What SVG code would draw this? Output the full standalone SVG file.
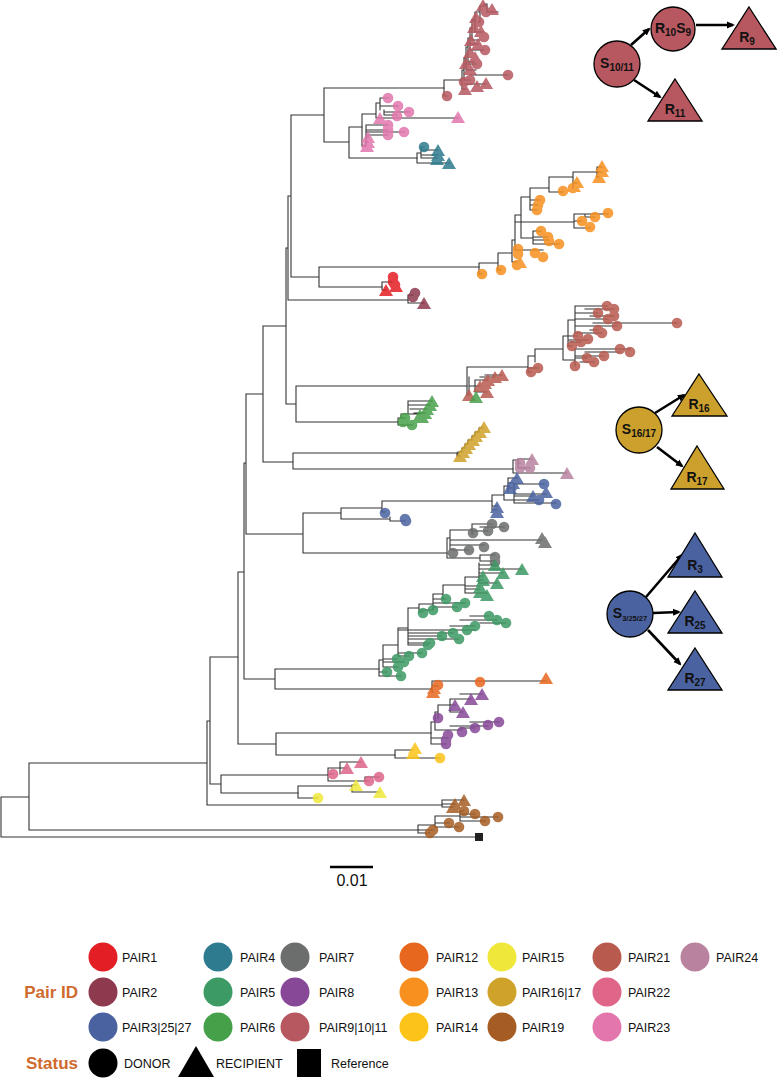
<svg xmlns="http://www.w3.org/2000/svg" xmlns:xlink="http://www.w3.org/1999/xlink" width="777" height="1078" viewBox="0 0 777 1078">
<style>
.br{stroke:#333;stroke-width:1.1;fill:none;stroke-linecap:square}
.mk{opacity:0.85}
.nd{stroke:#000;stroke-width:1.3}
.lb{font-family:"Liberation Sans",Arial,sans-serif;font-weight:bold;font-size:14px;fill:#111}
.sb{font-size:10px}
.lg{font-family:"Liberation Sans",Arial,sans-serif;font-size:12.5px;fill:#111}
.hd{font-family:"Liberation Sans",Arial,sans-serif;font-weight:bold;font-size:17px;fill:#cf6a2e}
.ar{stroke:#000;stroke-width:2.6;fill:none}
</style>
<defs>
<path id="t" d="M0,-7L7,5L-7,5Z"/>
<circle id="c" r="5.3"/>
<marker id="ah" markerWidth="8" markerHeight="8" refX="6" refY="4" orient="auto" markerUnits="userSpaceOnUse"><path d="M0,0.5L8,4L0,7.5Z" fill="#000"/></marker>
</defs>
<rect width="777" height="1078" fill="#fff"/>

<g id="backbone" class="br">
<path d="M1,797V837H479M1,797H29M29,763V830H418M29,763H207M207,721V805H442M207,721H210M210,657V784H221M210,657H238M221,775V793M221,775H328M221,793H298M238,572V744M238,572H244M238,744H276M276,733V755M276,733H431M276,755H395M244,463V679M244,463H246M244,679H275M275,669V689M275,669H379M275,689H432M246,394V534M246,394H263M246,534H303M303,513V553M303,513H341M303,553H447M341,508V519M341,508H382M341,519H390M382,501V512M382,501H492M382,512H385M390,517V521H405M263,326V462M263,326H286M263,462H293M293,453V469M293,453H457M293,469H513M286,248V404M286,248H288M286,404H296M296,386V422M296,386H467M296,422H398M288,196V300M288,196H291M288,300H408M291,115V277M291,115H324M291,277H319M319,267V287M319,267H479M319,287H382M324,88V142M324,88H444M324,142H349M349,127V158M349,127H362M349,158H417"/>
</g>

<g id="clade-pair9-10-11" >
<path class="br" d="M444,80V96H447M444,80H462M462,70V89H466M462,70H464M464,58V80H470M464,84H486M464,58H466M466,47V70H476M466,47H468M468,38V62H474M468,38H470M470,28V50H484M470,28H472M472,20V40H480M472,20H475M475,12V32H483M475,12H480M480,6V22H478M480,6H487M487,4V12H498M487,4H484M470,75H508M466,64H476M470,44H478"/>
<g fill="#b75860" class="mk">
<use href="#t" x="483" y="6"/><use href="#t" x="492" y="10"/><use href="#t" x="476" y="18"/><use href="#t" x="474" y="28"/><use href="#t" x="481" y="32"/><use href="#t" x="471" y="41"/><use href="#t" x="478" y="45"/><use href="#t" x="470" y="53"/><use href="#t" x="475" y="58"/><use href="#t" x="466" y="64"/><use href="#t" x="470" y="70"/><use href="#t" x="465" y="90"/><use href="#t" x="477" y="87"/><use href="#t" x="486" y="84"/>
<use href="#c" x="486" y="12"/><use href="#c" x="479" y="22"/><use href="#c" x="484" y="37"/><use href="#c" x="485" y="50"/><use href="#c" x="477" y="64"/><use href="#c" x="470" y="80"/><use href="#c" x="464" y="82"/><use href="#c" x="447" y="96"/><use href="#c" x="508" y="75"/>
</g>
</g>

<g id="clade-pair23">
<path class="br" d="M362,114V146M362,114H376M376,103V118M376,103H380M380,98V110M380,98H388M380,106H398M384,110V115M384,112H409M384,115H397M376,118H458M362,146H366M366,125V146M366,125H388M366,130H388M366,132H404M366,135H388M366,137H368M366,142H368"/>
<g fill="#e276ad" class="mk">
<use href="#c" x="388" y="98"/><use href="#c" x="398" y="106"/><use href="#c" x="409" y="112"/><use href="#c" x="397" y="116"/><use href="#t" x="458" y="118"/><use href="#t" x="380" y="119"/>
<use href="#c" x="388" y="125"/><use href="#c" x="388" y="130"/><use href="#c" x="404" y="132"/><use href="#c" x="388" y="135"/>
<use href="#t" x="368" y="138"/><use href="#t" x="368" y="143"/><use href="#t" x="367" y="147"/>
</g>
</g>

<g id="clade-pair4">
<path class="br" d="M417,153V163M417,153H421M421,147V158M421,147H424M421,150H438M421,155H438M421,158H437M417,163H449"/>
<g fill="#2e7b8f" class="mk">
<use href="#c" x="424" y="147"/><use href="#t" x="438" y="151"/><use href="#t" x="438" y="156"/><use href="#t" x="437" y="160"/><use href="#t" x="449" y="164"/>
</g>
</g>

<g id="clade-pair13">
<path class="br" d="M479,263V274H482M479,263H498M498,253V270H501M498,253H512M512,240V262H517M512,240H515M515,215V250M515,250H543M515,215H521M521,197V238M521,197H530M530,188V210H537M530,205H538M530,200H540M530,188H549M549,177V192H563M549,177H573M573,172V188H573M573,183H577M573,172H597M597,167V177M597,167H602M597,172H602M597,177H599M521,238H533M533,231V244M533,231H541M533,237H548M533,240H549M533,244H559M515,222H574M574,214V228M574,214H608M574,221H582M574,228H590M585,214V217H595"/>
<g fill="#f7901e" class="mk">
<use href="#c" x="482" y="274"/><use href="#c" x="501" y="270"/><use href="#c" x="517" y="265"/><use href="#t" x="520" y="263"/><use href="#c" x="518" y="249"/><use href="#c" x="518" y="254"/><use href="#c" x="535" y="253"/><use href="#c" x="543" y="257"/>
<use href="#c" x="541" y="231"/><use href="#c" x="548" y="237"/><use href="#c" x="549" y="241"/><use href="#c" x="559" y="244"/>
<use href="#c" x="582" y="221"/><use href="#c" x="590" y="227"/><use href="#c" x="595" y="217"/><use href="#c" x="608" y="213"/>
<use href="#c" x="537" y="210"/><use href="#c" x="538" y="205"/><use href="#c" x="540" y="200"/><use href="#c" x="563" y="191"/><use href="#c" x="573" y="188"/>
<use href="#t" x="577" y="183"/><use href="#t" x="574" y="187"/><use href="#t" x="602" y="167"/><use href="#t" x="602" y="172"/><use href="#t" x="599" y="178"/>
</g>
</g>

<g id="clade-pair1">
<path class="br" d="M382,282V290M382,282H392M382,290H386"/>
<g fill="#e31e24" class="mk">
<use href="#c" x="393" y="277"/><use href="#c" x="393" y="282"/><use href="#c" x="395" y="285"/><use href="#t" x="386" y="291"/><use href="#t" x="396" y="287"/>
</g>
</g>

<g id="clade-pair2">
<path class="br" d="M408,295V303M408,295H413M408,303H424"/>
<g fill="#8e3a4e" class="mk">
<use href="#c" x="415" y="293"/><use href="#c" x="413" y="297"/><use href="#t" x="424" y="304"/>
</g>
</g>

<g id="clade-pair21">
<path class="br" d="M467,367V395H469M469,377V395M469,386H480M475,380V392M475,392H487M475,380H488M480,377H495M485,375H502M467,367H528M528,356V372M528,372H531M528,368H538M528,356H535M535,349V362M535,349H563M563,336V360M563,336H568M568,320V346M568,346H572M568,340H588M568,336H578M570,342H581M568,320H575M575,306V333M575,306H607M575,313H598M575,319H608M575,326H617M575,333H602M585,309H614M590,316H614M593,323H677M590,330H598M563,360H575M575,349V366M575,366H575M575,349H630M585,352H620M575,356H604M575,358H587M580,362H594"/>
<g fill="#b85a4e" class="mk">
<use href="#c" x="607" y="306"/><use href="#c" x="614" y="309"/><use href="#c" x="614" y="316"/><use href="#c" x="598" y="313"/><use href="#c" x="608" y="319"/><use href="#c" x="617" y="326"/><use href="#c" x="677" y="323"/><use href="#c" x="598" y="330"/><use href="#c" x="602" y="333"/><use href="#c" x="578" y="336"/><use href="#c" x="588" y="339"/><use href="#c" x="581" y="342"/><use href="#c" x="572" y="346"/>
<use href="#c" x="620" y="349"/><use href="#c" x="630" y="352"/><use href="#c" x="604" y="356"/><use href="#c" x="587" y="358"/><use href="#c" x="594" y="362"/><use href="#c" x="575" y="366"/>
<use href="#c" x="531" y="372"/><use href="#c" x="538" y="368"/>
<use href="#t" x="502" y="376"/><use href="#t" x="495" y="378"/><use href="#t" x="488" y="381"/><use href="#t" x="485" y="384"/><use href="#t" x="480" y="387"/><use href="#t" x="487" y="393"/><use href="#t" x="469" y="396"/>
</g>
<use href="#t" x="476" y="398" fill="#46a04a" class="mk"/>
</g>

<g id="clade-pair6">
<path class="br" d="M398,418V425M398,418H405M398,425H412M401,418V414H420M408,414V401H432M408,405H430M410,409H427M414,413H425"/>
<g fill="#46a04a" class="mk">
<use href="#t" x="432" y="402"/><use href="#t" x="430" y="406"/><use href="#t" x="427" y="410"/><use href="#t" x="425" y="414"/><use href="#t" x="422" y="418"/><use href="#t" x="420" y="416"/>
<use href="#c" x="405" y="418"/><use href="#c" x="403" y="422"/><use href="#c" x="412" y="425"/>
</g>
</g>

<g id="clade-pair16-17">
<path class="br" d="M457,453V456H460M458,456V452H462V448H465V444H468V440H472V436H475V432H479V428H483"/>
<g fill="#cfa22a" class="mk">
<use href="#t" x="460" y="457"/><use href="#t" x="463" y="453"/><use href="#t" x="466" y="449"/><use href="#t" x="469" y="445"/><use href="#t" x="473" y="441"/><use href="#t" x="476" y="437"/><use href="#t" x="480" y="433"/><use href="#t" x="484" y="428"/>
</g>
</g>

<g id="clade-pair24">
<path class="br" d="M513,460V473H567M513,460H518M518,459V468M518,459H532M518,463H520M518,468H530"/>
<g fill="#b9829f" class="mk">
<use href="#c" x="520" y="463"/><use href="#c" x="520" y="468"/><use href="#c" x="530" y="468"/><use href="#t" x="532" y="460"/><use href="#t" x="567" y="474"/>
</g>
</g>

<g id="clade-pair3-25-27">
<path class="br" d="M492,495V510H497M492,506H497M492,495H504M504,486V500M504,486H510M508,478V492M508,478H517M508,483H513M508,488H512M504,500H514M514,484V503M514,484H544M514,494H546M514,496H533M514,500H539M514,503H556"/>
<g fill="#4a62a0" class="mk">
<use href="#t" x="517" y="479"/><use href="#t" x="513" y="484"/><use href="#t" x="510" y="489"/><use href="#c" x="512" y="487"/><use href="#c" x="544" y="484"/>
<use href="#t" x="533" y="497"/><use href="#t" x="546" y="493"/><use href="#c" x="539" y="500"/><use href="#c" x="556" y="504"/>
<use href="#t" x="497" y="508"/><use href="#t" x="497" y="513"/>
<use href="#c" x="385" y="513"/><use href="#c" x="405" y="519"/><use href="#c" x="406" y="521"/>
</g>
</g>

<g id="clade-pair7">
<path class="br" d="M447,538V558H480M480,555V561M480,555H495M480,561H495M447,538H450M450,530V550M450,550H469M450,545H484M450,540H481M481,540H542M450,530H472M472,524V534M472,534H473M472,531H488M472,524H492M480,527H504"/>
<g fill="#6b6e6c" class="mk">
<use href="#c" x="492" y="524"/><use href="#c" x="488" y="531"/><use href="#c" x="504" y="527"/><use href="#c" x="473" y="533"/>
<use href="#t" x="542" y="539"/><use href="#t" x="545" y="543"/>
<use href="#c" x="469" y="550"/><use href="#c" x="484" y="547"/><use href="#c" x="453" y="553"/><use href="#c" x="495" y="557"/><use href="#c" x="495" y="562"/>
</g>
</g>

<g id="clade-pair5">
<path class="br" d="M379,660V676H401M379,672H387M379,660H383M383,645V667H398M383,662H404M383,659H397M383,645H398M398,628V656H409M398,653H422M398,628H408M408,608V645H428M408,643H430M408,639H459M408,636H442M408,633H453M408,608H419M419,604V612H423M419,610H433M419,604H433M433,594V609M433,607H457M433,603H465M433,599H446M433,594H443M443,585V598M443,585H465M465,577V593M465,593H487M465,589H480M465,586H480M465,577H479M479,563V583M479,583H497M479,580H483M479,576H483M479,573H503M479,569H522M479,565H495M398,630H475M440,630H467M450,626H475M460,620H497M470,616H489M480,623H506"/>
<g fill="#3c9a64" class="mk">
<use href="#t" x="495" y="566"/><use href="#t" x="503" y="574"/><use href="#t" x="522" y="570"/><use href="#t" x="483" y="577"/><use href="#t" x="483" y="581"/><use href="#t" x="497" y="584"/><use href="#t" x="480" y="588"/><use href="#t" x="480" y="593"/><use href="#t" x="487" y="596"/>
<use href="#c" x="446" y="599"/><use href="#c" x="465" y="603"/><use href="#c" x="457" y="607"/><use href="#c" x="433" y="610"/><use href="#c" x="423" y="613"/>
<use href="#c" x="489" y="616"/><use href="#c" x="497" y="620"/><use href="#c" x="506" y="623"/><use href="#c" x="475" y="626"/><use href="#c" x="467" y="630"/>
<use href="#c" x="453" y="633"/><use href="#c" x="442" y="636"/><use href="#c" x="459" y="639"/><use href="#c" x="430" y="643"/><use href="#c" x="428" y="645"/><use href="#c" x="422" y="653"/><use href="#c" x="409" y="656"/><use href="#c" x="397" y="659"/><use href="#c" x="404" y="662"/><use href="#c" x="398" y="667"/><use href="#c" x="387" y="672"/><use href="#c" x="401" y="676"/>
</g>
</g>

<g id="clade-pair12">
<path class="br" d="M432,681V692H433M432,681H546M432,686H438"/>
<g fill="#e8671f" class="mk">
<use href="#c" x="438" y="685"/><use href="#t" x="434" y="689"/><use href="#t" x="433" y="693"/><use href="#c" x="480" y="682"/><use href="#t" x="546" y="679"/>
</g>
</g>

<g id="clade-pair8">
<path class="br" d="M431,722V744H446M431,738H448M431,722H435M435,712V730M435,730H462M450,726H488M460,728H475M470,722H499M435,712H438M438,705V718M438,718H438M438,705H450M450,699V712M450,712H463M450,705H455M450,699H471M460,694H482"/>
<g fill="#874898" class="mk">
<use href="#t" x="482" y="695"/><use href="#t" x="471" y="700"/><use href="#t" x="455" y="706"/><use href="#t" x="463" y="713"/>
<use href="#c" x="438" y="718"/><use href="#c" x="499" y="722"/><use href="#c" x="488" y="725"/><use href="#c" x="475" y="728"/><use href="#c" x="462" y="732"/><use href="#c" x="448" y="735"/><use href="#c" x="446" y="740"/><use href="#c" x="446" y="744"/>
</g>
</g>

<g id="clade-pair14">
<path class="br" d="M395,750V758H440M395,750H413"/>
<g fill="#fcc419" class="mk">
<use href="#t" x="415" y="749"/><use href="#t" x="413" y="754"/><use href="#c" x="440" y="758"/>
</g>
</g>

<g id="clade-pair22">
<path class="br" d="M328,768V781H365M365,777V781M365,777H379M365,781H369M328,768H340M340,762V774M340,762H361M340,768H347M328,774H333"/>
<g fill="#df6589" class="mk">
<use href="#t" x="361" y="763"/><use href="#t" x="347" y="769"/><use href="#c" x="333" y="774"/><use href="#c" x="379" y="777"/><use href="#c" x="369" y="781"/>
</g>
</g>

<g id="clade-pair15">
<path class="br" d="M298,786V798H318M298,786H352M352,785V792H380M352,785H356"/>
<g fill="#efe83a" class="mk">
<use href="#t" x="356" y="786"/><use href="#t" x="380" y="793"/><use href="#c" x="318" y="798"/>
</g>
</g>

<g id="clade-pair19">
<path class="br" d="M442,800V807H453M442,804H455M442,800H464M418,825V833H430M418,830H433M418,825H435M435,816V827H459M435,823H449M435,816H460M460,811V821M460,811H464M460,814H475M460,817H498M460,821H485"/>
<g fill="#a65d23" class="mk">
<use href="#t" x="464" y="801"/><use href="#t" x="455" y="805"/><use href="#t" x="453" y="808"/>
<use href="#c" x="464" y="811"/><use href="#c" x="475" y="814"/><use href="#c" x="498" y="817"/><use href="#c" x="485" y="821"/><use href="#c" x="449" y="823"/><use href="#c" x="459" y="827"/><use href="#c" x="433" y="830"/><use href="#c" x="430" y="833"/>
</g>
</g>

<g id="reference">
<rect x="475" y="833" width="8" height="8" fill="#222"/>
</g>

<g id="scalebar">
<path d="M330,867H373" stroke="#000" stroke-width="2.6"/>
<text x="352" y="886" text-anchor="middle" font-family="Liberation Sans, Arial, sans-serif" font-size="16" fill="#111">0.01</text>
</g>

<g id="connectors">
<path class="ar" d="M631,45L649,29" marker-end="url(#ah)"/>
<path class="ar" d="M696,25L733,25" marker-end="url(#ah)"/>
<path class="ar" d="M634,80L660,97" marker-end="url(#ah)"/>
<path class="ar" d="M655,413L684,395" marker-end="url(#ah)"/>
<path class="ar" d="M657,447L682,466" marker-end="url(#ah)"/>
<path class="ar" d="M646,597L682,555" marker-end="url(#ah)"/>
<path class="ar" d="M653,613L679,612" marker-end="url(#ah)"/>
<path class="ar" d="M648,630L680,664" marker-end="url(#ah)"/>
</g>

<g id="n-S10-11"><circle class="nd" cx="617" cy="64" r="23" fill="#b75860"/><text class="lb" x="617" y="68" text-anchor="middle">S<tspan class="sb" dy="3">10/11</tspan></text></g>
<g id="n-R10S9"><circle class="nd" cx="673" cy="29" r="22" fill="#b75860"/><text class="lb" x="673" y="33" text-anchor="middle">R<tspan class="sb" dy="3">10</tspan><tspan dy="-3">S</tspan><tspan class="sb" dy="3">9</tspan></text></g>
<g id="n-R9"><path class="nd" d="M749,7L776,49L722,49Z" fill="#b75860"/><text class="lb" x="747" y="42" text-anchor="middle">R<tspan class="sb" dy="3">9</tspan></text></g>
<g id="n-R11"><path class="nd" d="M675,79L702,121L648,121Z" fill="#b75860"/><text class="lb" x="675" y="114" text-anchor="middle">R<tspan class="sb" dy="3">11</tspan></text></g>

<g id="n-S16-17"><circle class="nd" cx="639" cy="430" r="23" fill="#cca02c"/><text class="lb" x="639" y="434" text-anchor="middle">S<tspan class="sb" dy="3">16/17</tspan></text></g>
<g id="n-R16"><path class="nd" d="M699,374L727,416L672,416Z" fill="#cca02c"/><text class="lb" x="699" y="409" text-anchor="middle">R<tspan class="sb" dy="3">16</tspan></text></g>
<g id="n-R17"><path class="nd" d="M697,446L724,489L671,489Z" fill="#cca02c"/><text class="lb" x="697" y="482" text-anchor="middle">R<tspan class="sb" dy="3">17</tspan></text></g>

<g id="n-S3-25-27"><circle class="nd" cx="630" cy="614" r="23" fill="#4a62a0"/><text class="lb" x="630" y="618" text-anchor="middle">S<tspan font-size="7.5" dy="3">3/25/27</tspan></text></g>
<g id="n-R3"><path class="nd" d="M695,533L722,577L668,577Z" fill="#4a62a0"/><text class="lb" x="695" y="570" text-anchor="middle">R<tspan class="sb" dy="3">3</tspan></text></g>
<g id="n-R25"><path class="nd" d="M695,591L722,633L668,633Z" fill="#4a62a0"/><text class="lb" x="695" y="626" text-anchor="middle">R<tspan class="sb" dy="3">25</tspan></text></g>
<g id="n-R27"><path class="nd" d="M695,648L722,690L668,690Z" fill="#4a62a0"/><text class="lb" x="695" y="683" text-anchor="middle">R<tspan class="sb" dy="3">27</tspan></text></g>

<g id="legend">
<text class="hd" x="78" y="998" text-anchor="end">Pair ID</text>
<text class="hd" x="78" y="1069" text-anchor="end">Status</text>
<g id="lg-row1">
<circle cx="103" cy="957" r="14.5" fill="#e31e24"/><text class="lg" x="122" y="962">PAIR1</text>
<circle cx="218" cy="957" r="14.5" fill="#2e7b8f"/><text class="lg" x="240" y="962">PAIR4</text>
<circle cx="295" cy="957" r="14.5" fill="#6b6e6c"/><text class="lg" x="319" y="962">PAIR7</text>
<circle cx="414" cy="957" r="14.5" fill="#e8671f"/><text class="lg" x="436" y="962">PAIR12</text>
<circle cx="502" cy="957" r="14.5" fill="#efe83a"/><text class="lg" x="522" y="962">PAIR15</text>
<circle cx="607" cy="957" r="14.5" fill="#b85a4e"/><text class="lg" x="628" y="962">PAIR21</text>
<circle cx="695" cy="957" r="14.5" fill="#b9829f"/><text class="lg" x="716" y="962">PAIR24</text>
</g>
<g id="lg-row2">
<circle cx="103" cy="992" r="14.5" fill="#8e3a4e"/><text class="lg" x="122" y="997">PAIR2</text>
<circle cx="218" cy="992" r="14.5" fill="#3c9a64"/><text class="lg" x="240" y="997">PAIR5</text>
<circle cx="295" cy="992" r="14.5" fill="#874898"/><text class="lg" x="319" y="997">PAIR8</text>
<circle cx="414" cy="992" r="14.5" fill="#f7901e"/><text class="lg" x="436" y="997">PAIR13</text>
<circle cx="502" cy="992" r="14.5" fill="#cfa22a"/><text class="lg" x="522" y="997">PAIR16|17</text>
<circle cx="607" cy="992" r="14.5" fill="#df6589"/><text class="lg" x="628" y="997">PAIR22</text>
</g>
<g id="lg-row3">
<circle cx="103" cy="1027" r="14.5" fill="#4a62a0"/><text class="lg" x="122" y="1032">PAIR3|25|27</text>
<circle cx="218" cy="1027" r="14.5" fill="#46a04a"/><text class="lg" x="240" y="1032">PAIR6</text>
<circle cx="295" cy="1027" r="14.5" fill="#b75860"/><text class="lg" x="319" y="1032">PAIR9|10|11</text>
<circle cx="414" cy="1027" r="14.5" fill="#fcc419"/><text class="lg" x="436" y="1032">PAIR14</text>
<circle cx="502" cy="1027" r="14.5" fill="#a65d23"/><text class="lg" x="522" y="1032">PAIR19</text>
<circle cx="607" cy="1027" r="14.5" fill="#e276ad"/><text class="lg" x="628" y="1032">PAIR23</text>
</g>
<g id="lg-status">
<circle cx="103" cy="1063" r="14.5" fill="#000"/><text class="lg" x="124" y="1068">DONOR</text>
<path d="M196,1046L214,1077L178,1077Z" fill="#000"/><text class="lg" x="216" y="1068">RECIPIENT</text>
<rect x="297" y="1049" width="24" height="28" fill="#000"/><text class="lg" x="331" y="1068">Reference</text>
</g>
</g>
</svg>
